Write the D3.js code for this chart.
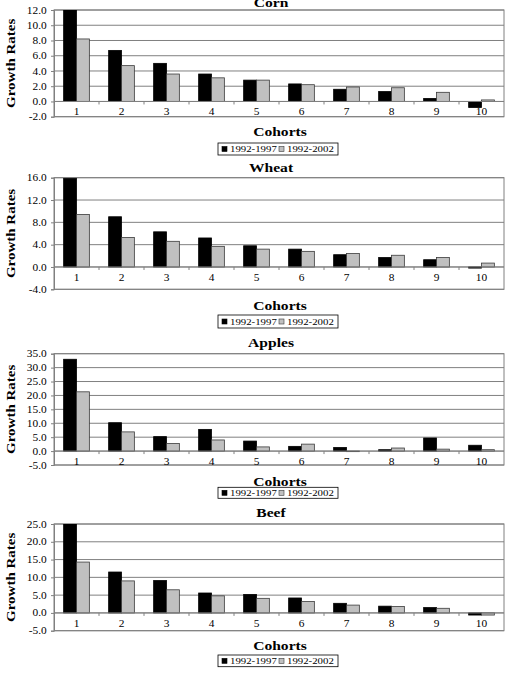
<!DOCTYPE html>
<html>
<head>
<meta charset="utf-8">
<script src="https://cdn.jsdelivr.net/npm/d3@7"></script>
<style>
body { margin: 0; background: #fff; }
svg, svg text { font-family: "Liberation Serif", "DejaVu Serif", "Times New Roman", serif; }
</style>
</head>
<body>
<svg width="511" height="675"></svg>
<script>
// data
var cohorts = [1, 2, 3, 4, 5, 6, 7, 8, 9, 10];
var seriesNames = ["1992-1997", "1992-2002"];

var cornA = [12.4, 6.7, 5.0, 3.6, 2.8, 2.3, 1.6, 1.3, 0.4, -0.8];
var cornB = [8.2, 4.7, 3.6, 3.1, 2.8, 2.2, 1.9, 1.8, 1.2, 0.2];
var cornTicks = [-2, 0, 2, 4, 6, 8, 10, 12];

var wheatA = [15.9, 9.0, 6.3, 5.2, 3.8, 3.2, 2.2, 1.7, 1.3, -0.2];
var wheatB = [9.4, 5.3, 4.6, 3.7, 3.2, 2.8, 2.4, 2.1, 1.7, 0.7];
var wheatTicks = [-4, 0, 4, 8, 12, 16];

var applesA = [33.0, 10.2, 5.2, 7.8, 3.6, 1.7, 1.3, 0.5, 4.7, 2.1];
var applesB = [21.3, 6.9, 2.7, 4.0, 1.5, 2.5, -0.2, 1.1, 0.7, 0.5];
var applesTicks = [-5, 0, 5, 10, 15, 20, 25, 30, 35];

var beefA = [25.5, 11.5, 9.1, 5.6, 5.2, 4.2, 2.7, 1.9, 1.5, -0.6];
var beefB = [14.3, 9.0, 6.5, 4.8, 4.1, 3.2, 2.2, 1.8, 1.3, -0.6];
var beefTicks = [-5, 0, 5, 10, 15, 20, 25];

var panels = [
  {title: "Corn", a: cornA, b: cornB, ticks: cornTicks},
  {title: "Wheat", a: wheatA, b: wheatB, ticks: wheatTicks},
  {title: "Apples", a: applesA, b: applesB, ticks: applesTicks},
  {title: "Beef", a: beefA, b: beefB, ticks: beefTicks}
];

// page layout of each panel
var layout = [
  {top: 10, bottom: 116.7, titleY: 7, cohortsY: 136, legendY: 143, legendH: 12},
  {top: 177.7, bottom: 289.3, titleY: 172.3, cohortsY: 309.7, legendY: 315, legendH: 13},
  {top: 353.7, bottom: 465, titleY: 347.3, cohortsY: 486, legendY: 487.3, legendH: 11},
  {top: 524, bottom: 630.7, titleY: 516.7, cohortsY: 649.7, legendY: 655, legendH: 11.7}
];

var svg = d3.select("svg");
var serif = "'Liberation Serif', 'DejaVu Serif', 'Times New Roman', serif";
var left = 54, right = 504;
var sx = 1.2; // text in the original is stretched sideways
var colors = ["#000000", "#c0c0c0"];
var gridColor = "#808080";

var x0 = d3.scaleBand().domain(cohorts).range([left, right]).padding(0);
var x1 = d3.scaleBand().domain(seriesNames).range([0, x0.bandwidth()])
        .paddingInner(0).paddingOuter(0.75);

function wideText(g, x, y, str) {
  return g.append("text")
    .attr("transform", "translate(" + x + "," + y + ") scale(" + sx + ",1)")
    .attr("font-family", serif)
    .attr("fill", "#000")
    .text(str);
}

panels.forEach(function (p, i) {
  var L = layout[i];
  var y = d3.scaleLinear()
      .domain([p.ticks[0], p.ticks[p.ticks.length - 1]])
      .range([L.bottom, L.top]);

  var g = svg.append("g").attr("class", "panel");

  // grid lines
  g.append("g").selectAll("line")
    .data(p.ticks)
    .enter().append("line")
    .attr("x1", left).attr("x2", right)
    .attr("y1", function (d) { return y(d); })
    .attr("y2", function (d) { return y(d); })
    .attr("stroke", gridColor).attr("stroke-width", 1);

  // plot border
  g.append("rect")
    .attr("x", left).attr("y", L.top)
    .attr("width", right - left).attr("height", L.bottom - L.top)
    .attr("fill", "none").attr("stroke", gridColor).attr("stroke-width", 1);

  // bars, clipped to the plot area
  var clipId = "clip" + i;
  g.append("clipPath").attr("id", clipId)
    .append("rect")
    .attr("x", left).attr("y", L.top)
    .attr("width", right - left).attr("height", L.bottom - L.top);

  var rows = cohorts.map(function (c, k) {
    return [{s: seriesNames[0], c: c, v: p.a[k]}, {s: seriesNames[1], c: c, v: p.b[k]}];
  });

  g.append("g").attr("clip-path", "url(#" + clipId + ")")
    .selectAll("g")
    .data(rows)
    .enter().append("g")
    .attr("transform", function (d) { return "translate(" + x0(d[0].c) + ",0)"; })
    .selectAll("rect")
    .data(function (d) { return d; })
    .enter().append("rect")
    .attr("x", function (d) { return x1(d.s); })
    .attr("width", x1.bandwidth())
    .attr("y", function (d) { return Math.min(y(d.v), y(0)); })
    .attr("height", function (d) { return Math.abs(y(d.v) - y(0)); })
    .attr("fill", function (d, k) { return colors[k]; })
    .attr("stroke", function (d, k) { return k === 0 ? "#000" : "#3a3a3a"; })
    .attr("stroke-width", 0.8);

  // y axis
  var yAxis = g.append("g")
    .attr("transform", "translate(" + left + ",0)")
    .call(d3.axisLeft(y).tickValues(p.ticks).tickSize(3).tickPadding(3)
      .tickFormat(function (d) { return d.toFixed(1); }));
  yAxis.attr("font-family", serif);
  yAxis.select(".domain").attr("stroke", gridColor);
  yAxis.selectAll(".tick line").attr("stroke", gridColor);
  yAxis.selectAll(".tick text")
    .attr("font-size", 9.5)
    .attr("font-family", serif)
    .attr("transform", "scale(" + sx + ",1)");

  // category axis on the zero line
  g.append("line")
    .attr("x1", left).attr("x2", right)
    .attr("y1", y(0)).attr("y2", y(0))
    .attr("stroke", gridColor);
  g.append("g").selectAll("line")
    .data(cohorts.slice(1))
    .enter().append("line")
    .attr("x1", function (d) { return x0(d); })
    .attr("x2", function (d) { return x0(d); })
    .attr("y1", y(0)).attr("y2", y(0) + 3)
    .attr("stroke", gridColor);
  g.append("g").selectAll("text")
    .data(cohorts)
    .enter().append("text")
    .attr("transform", function (d) {
      return "translate(" + (x0(d) + x0.bandwidth() / 2) + "," + (y(0) + 14) + ") scale(" + sx + ",1)";
    })
    .attr("text-anchor", "middle")
    .attr("font-family", serif)
    .attr("fill", "#000")
    .attr("font-size", 9.5)
    .text(function (d) { return d; });

  // titles
  wideText(g, (left + right) / 2 - 8, L.titleY, p.title)
    .attr("text-anchor", "middle").attr("font-weight", "bold").attr("font-size", 13);
  wideText(g, 280, L.cohortsY, "Cohorts")
    .attr("text-anchor", "middle").attr("font-weight", "bold").attr("font-size", 13);
  g.append("text")
    .attr("transform", "translate(15," + ((L.top + L.bottom) / 2) + ") rotate(-90) scale(" + sx + ",1)")
    .attr("text-anchor", "middle").attr("font-weight", "bold").attr("font-size", 12.5)
    .attr("font-family", serif)
    .text("Growth Rates");

  // legend
  var lg = g.append("g").attr("transform", "translate(218," + L.legendY + ")");
  lg.append("rect")
    .attr("width", 120).attr("height", L.legendH)
    .attr("fill", "#fff").attr("stroke", "#000").attr("stroke-width", 0.8);
  seriesNames.forEach(function (s, k) {
    var ox = 4 + k * 57;
    lg.append("rect")
      .attr("x", ox).attr("y", L.legendH / 2 - 2.5)
      .attr("width", 5).attr("height", 5)
      .attr("fill", colors[k]).attr("stroke", k === 0 ? "#000" : "#3a3a3a").attr("stroke-width", 0.6);
    wideText(lg, ox + 8, L.legendH / 2 + 3, s).attr("font-size", 9);
  });
});
</script>
</body>
</html>
